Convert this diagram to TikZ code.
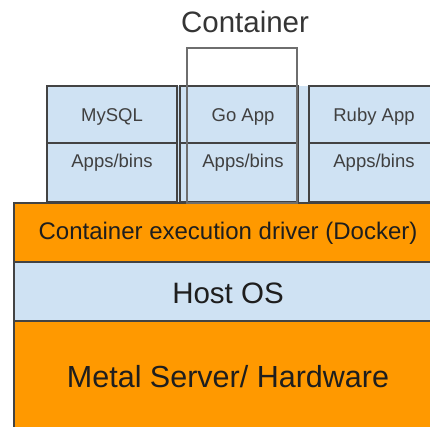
\documentclass[tikz,border=0pt]{standalone}
\usepackage{fontspec}
\setmainfont{Liberation Sans}
\definecolor{paleblue}{HTML}{CFE2F3}
\definecolor{amber}{HTML}{FF9900}
\definecolor{edge}{HTML}{434343}
\definecolor{frame}{HTML}{6E6E6E}
\definecolor{ink}{HTML}{1E1E1E}
\begin{document}
\begin{tikzpicture}[x=1pt,y=-1pt,
  layer/.style={draw=edge,line width=1.2pt,anchor=north west,inner sep=0pt,outer sep=0pt},
  celltext/.style={text=ink!85,font=\fontsize{18.5}{20}\selectfont,inner sep=0pt},
  bigtext/.style={text=ink,font=\fontsize{29.5}{32}\selectfont,inner sep=0pt},
  midtext/.style={text=ink,font=\fontsize{24}{26}\selectfont,inner sep=0pt}]
\useasboundingbox (0,0) rectangle (430,427);
\begin{scope}
\clip (0,0) rectangle (430,427);
% hardware, host OS and container driver layers
\node[layer,fill=amber,minimum width=431pt,minimum height=125pt] (hw) at (14,321) {};
\node[layer,fill=paleblue,minimum width=431pt,minimum height=59pt] (host) at (14,262) {};
\node[layer,fill=amber,minimum width=431pt,minimum height=59pt] (driver) at (14,203) {};
% container cells on a shared blue band
\fill[paleblue] (47,86) rectangle (440,202);
\node[layer,minimum width=130pt,minimum height=57pt] (mysql) at (47,86) {};
\node[layer,minimum width=130pt,minimum height=59pt] (mysqlbin) at (47,143) {};
\node[layer,minimum width=118pt,minimum height=57pt] (go) at (180,86) {};
\node[layer,minimum width=118pt,minimum height=59pt] (gobin) at (180,143) {};
\node[layer,minimum width=130pt,minimum height=57pt] (ruby) at (309,86) {};
\node[layer,minimum width=130pt,minimum height=59pt] (rubybin) at (309,143) {};
% outline marking one container
\node[draw=frame,line width=1.8pt,anchor=north west,inner sep=0pt,minimum width=110pt,minimum height=155pt] (box) at (186,47) {};
\end{scope}
% labels
\node[bigtext,text=ink!90] (title) at (245,22) {Container};
\node[celltext] (t1) at (112,117) {MySQL};
\node[celltext] (t2) at (243,117) {Go App};
\node[celltext] (t3) at (374,117) {Ruby App};
\node[celltext] (t4) at (112,163) {Apps/bins};
\node[celltext] (t5) at (243,163) {Apps/bins};
\node[celltext] (t6) at (374,163) {Apps/bins};
\node[midtext] (t7) at (228,233) {Container execution driver (Docker)};
\node[bigtext] (t8) at (228,293) {Host OS};
\node[bigtext,font=\fontsize{30.5}{32}\selectfont] (t9) at (228,377) {Metal Server/ Hardware};
\end{tikzpicture}
\end{document}
